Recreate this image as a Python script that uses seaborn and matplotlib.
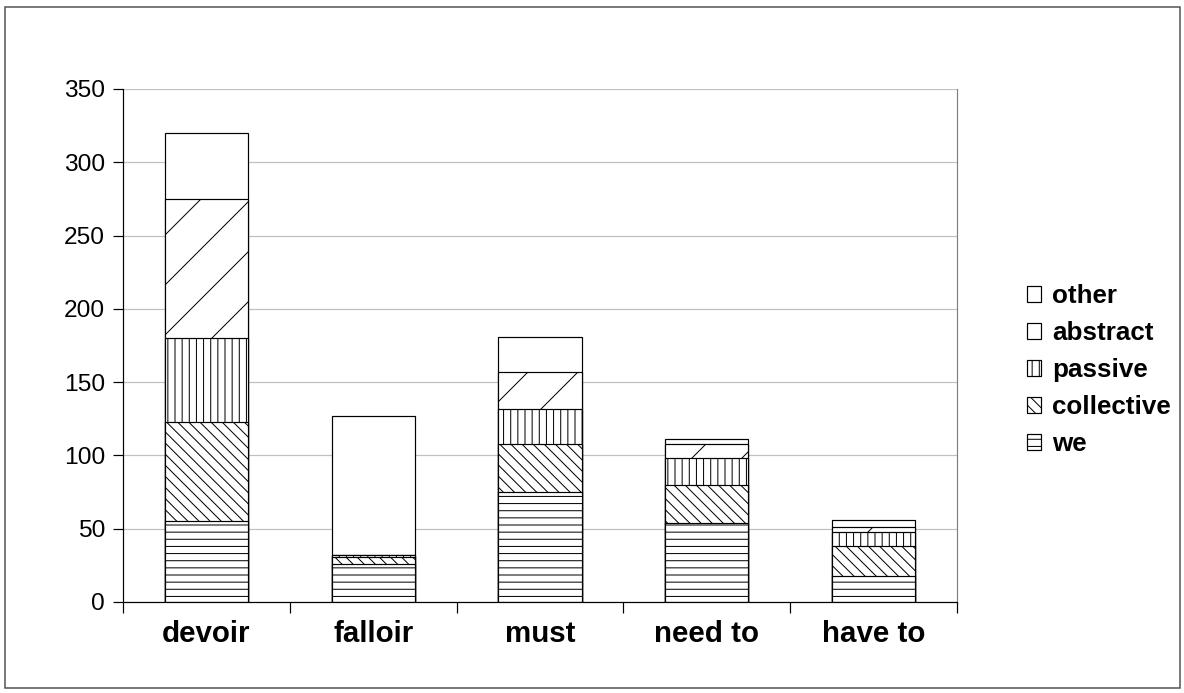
import numpy as np
import pandas as pd
import matplotlib.pyplot as plt
import seaborn as sns
from matplotlib.patches import Rectangle

# values
verbs = ['devoir', 'falloir', 'must', 'need to', 'have to']
we = [55, 26, 75, 54, 18]
collective = [68, 5, 33, 26, 20]
passive = [57, 1, 24, 18, 10]
abstract = [95, 0, 25, 10, 3]
other = [45, 95, 24, 3, 5]

layers = ['we', 'collective', 'passive', 'abstract', 'other']
BS = chr(92)  # backslash
hatches = {'we': '-' * 7, 'collective': BS * 9, 'passive': '|' * 7,
           'abstract': '//', 'other': ''}

DPI = 300
PX = 72 / DPI  # points per pixel, so sizes can be given in pixels

sns.set_style('white')
plt.rcParams['font.family'] = ['Liberation Sans', 'DejaVu Sans']
plt.rcParams['text.color'] = 'black'
plt.rcParams['xtick.color'] = 'black'
plt.rcParams['ytick.color'] = 'black'
plt.rcParams['hatch.linewidth'] = 1.0 * PX

df = pd.DataFrame({'verb': verbs, 'we': we, 'collective': collective,
                   'passive': passive, 'abstract': abstract, 'other': other})
stack = df[layers].cumsum(axis=1)

fig = plt.figure(figsize=(1184 / DPI, 693 / DPI), dpi=DPI)
ax = fig.add_axes([123 / 1184, 91 / 693, 834 / 1184, 513 / 693])

# tallest cumulative layer first, then cover with the lower ones
for layer in reversed(layers):
    sns.barplot(x=df['verb'], y=stack[layer], color='white', saturation=1,
                edgecolor='black', linewidth=1.2 * PX, hatch=hatches[layer],
                width=0.5, label=layer, ax=ax)

if ax.get_legend() is not None:
    ax.get_legend().remove()

ax.set_xlabel('')
ax.set_ylabel('')
ax.set_xlim(-0.5, 4.5)
ax.set_ylim(0, 350)
ax.set_yticks(np.arange(0, 351, 50))
ax.yaxis.grid(True, color='#c0c0c0', linewidth=1.2 * PX)
ax.set_axisbelow(True)

for s in ['left', 'bottom']:
    ax.spines[s].set_color('black')
    ax.spines[s].set_linewidth(1.2 * PX)
ax.spines['top'].set_visible(False)
ax.spines['right'].set_color('#808080')
ax.spines['right'].set_linewidth(1.2 * PX)

ax.tick_params(axis='y', direction='out', length=10 * PX, width=1.2 * PX,
               pad=8 * PX, labelsize=24.5 * PX, left=True)
ax.set_xticks(np.arange(-0.5, 5, 1), minor=True)
ax.tick_params(axis='x', which='minor', direction='out', length=11 * PX,
               width=1.2 * PX, bottom=True)
ax.tick_params(axis='x', which='major', length=0, pad=18 * PX, labelsize=29.5 * PX)
for lbl in ax.get_xticklabels():
    lbl.set_fontweight('bold')

handles, labels = ax.get_legend_handles_labels()
fig.legend(handles, labels, loc='center left',
           bbox_to_anchor=(1027 / 1184, 1 - 370 / 693), frameon=False,
           prop={'weight': 'bold', 'size': 26 * PX},
           handlelength=0.54, handleheight=0.54, handletextpad=0.42,
           labelspacing=0.5, borderpad=0, borderaxespad=0)

fig.patches.append(Rectangle((5 / 1184, 5 / 693), 1175 / 1184, 681 / 693,
                             transform=fig.transFigure, fill=False,
                             edgecolor='#505050', linewidth=1.5 * PX))

fig.savefig('out.png', dpi=DPI)
